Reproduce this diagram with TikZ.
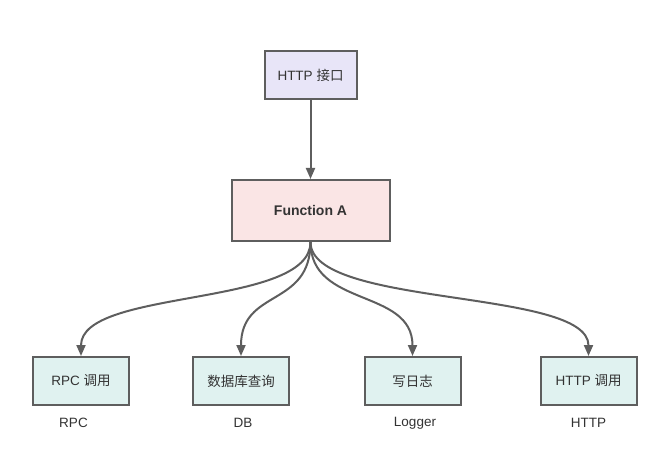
\documentclass[tikz,border=0pt]{standalone}
\usepackage{fontspec}
\setmainfont{Liberation Sans}
\newfontfamily\cjk{Noto Sans CJK SC}
\usetikzlibrary{arrows.meta,calc}
\definecolor{bordergray}{HTML}{5E5E5E}
\definecolor{txtgray}{HTML}{333333}
\definecolor{topfill}{HTML}{E8E5F8}
\definecolor{funcfill}{HTML}{FAE5E5}
\definecolor{leaffill}{HTML}{E0F2F0}
\begin{document}
\begin{tikzpicture}[x=1pt,y=-1pt,
  box/.style={draw=bordergray,line width=2pt,rectangle,inner sep=0pt,text=txtgray,font=\fontsize{13.5}{15}\selectfont},
  leaf/.style={box,fill=leaffill,minimum width=96pt,minimum height=48pt},
  lbl/.style={text=txtgray,font=\fontsize{13.5}{15}\selectfont,inner sep=0pt},
  conn/.style={draw=bordergray,line width=2pt,-{Triangle[length=11pt,width=9pt]}}]
\useasboundingbox[fill=white] (0,0) rectangle (667,465);
\node[box,fill=topfill,minimum width=92pt,minimum height=48pt] (http) at (310.5,75) {HTTP {\cjk 接口}};
\node[box,fill=funcfill,minimum width=158pt,minimum height=61pt,font=\fontsize{14}{16}\selectfont\bfseries] (fa) at (310.5,210.5) {Function A};
\node[leaf] (rpc) at (81,381) {RPC {\cjk 调用}};
\node[leaf] (db) at (241,381) {\cjk 数据库查询};
\node[leaf] (log) at (412.5,381) {\cjk 写日志};
\node[leaf] (hc) at (588.5,381) {HTTP {\cjk 调用}};
\node[lbl] (lrpc) at (73.5,423) {RPC};
\node[lbl] (ldb) at (243,423) {DB};
\node[lbl] (llog) at (415,423) {Logger};
\node[lbl] (lhttp) at (588.5,423) {HTTP};
\draw[conn] (http.south) -- (fa.north);
\foreach \t in {rpc,db,log,hc}{
  \draw[conn] (fa.south) .. controls ($(fa.south)+(0,66)$) and ($(\t.north)+(0,-68)$) .. (\t.north);
}
\end{tikzpicture}
\end{document}
